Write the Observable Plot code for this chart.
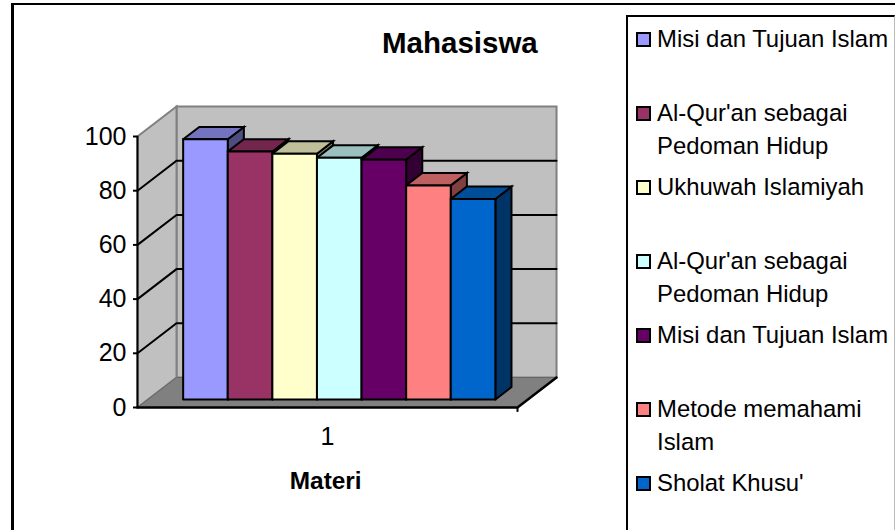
<!DOCTYPE html>
<html>
<head>
<meta charset="utf-8">
<script src="https://cdn.jsdelivr.net/npm/d3@7"></script>
<script src="https://cdn.jsdelivr.net/npm/@observablehq/plot@0.6"></script>
<style>
html,body{margin:0;padding:0;background:#fff;}
#stage{position:relative;width:895px;height:530px;overflow:hidden;font-family:"Liberation Sans",Arial,sans-serif;color:#000;}
#frame{position:absolute;left:11px;top:3px;width:900px;height:540px;border-left:3px solid #000;border-top:2.5px solid #000;}
#title{position:absolute;left:382px;top:23px;font-size:29.5px;font-weight:bold;line-height:40px;white-space:nowrap;}
#legend{position:absolute;left:626px;top:15px;width:266px;height:530px;border-left:2px solid #000;border-top:2px solid #000;border-right:1px solid #bbb;}
.row{position:absolute;left:8px;width:250px;height:74px;}
.sw{position:absolute;left:0;top:0;width:11px;height:11px;border:2px solid #000;}
.tx{position:absolute;left:21px;top:-9px;width:236px;font-size:23.9px;line-height:32.5px;}
svg{position:absolute;left:0;top:0;}
</style>
</head>
<body>
<div id="stage"><div id="frame"></div><div id="title">Mahasiswa</div><div id="legend"></div></div>
<script>
const chartTitle = "Mahasiswa";
const xTitle = "Materi";
const xCategory = "1";
const seriesNames = ["Misi dan Tujuan Islam","Al-Qur'an sebagai Pedoman Hidup","Ukhuwah Islamiyah","Al-Qur'an sebagai Pedoman Hidup","Misi dan Tujuan Islam","Metode memahami Islam","Sholat Khusu'"];
const seriesValues = [96, 91.5, 90.7, 89.2, 88.5, 79, 74];
const frontColors = ["#9999FF","#993366","#FFFFCC","#CCFFFF","#660066","#FF8080","#0066CC"];
const topColors = ["#7373BF","#73264D","#BFBF99","#99BFBF","#4D004D","#BF6060","#004D99"];
const sideColors = ["#4D4D80","#4D1A33","#808066","#668080","#330033","#804040","#003366"];
const yTicks = [0,20,40,60,80,100];
const gridValues = [20,40,60,80];

// oblique projection: depth 0 = front plane, 1 = back wall
const nBars = seriesValues.length;
const xMin = -0.79, xMax = nBars + 0.73;
const kx = 0.875, ky = 11.07;
const zFront = 0.267, zBack = 0.68;
const P = (u, v, z) => ({X: u + z * kx, Y: v + z * ky});
const poly = pts => { const a = pts.map(p => P(...p)); a.push(a[0]); return a; };
const path = pts => pts.map(p => P(...p));

const faceOpts = (fill, stroke, strokeWidth) => ({x:"X", y:"Y", fill, stroke, strokeWidth, strokeLinejoin:"miter", strokeMiterlimit:10, curve:"linear"});

const marks = [];
// walls and floor
marks.push(Plot.line(poly([[xMin,0,1],[xMax,0,1],[xMax,100,1],[xMin,100,1]]), faceOpts("#C0C0C0","#808080",2)));
marks.push(Plot.line(poly([[xMin,0,0],[xMin,0,1],[xMin,100,1],[xMin,100,0]]), faceOpts("#C0C0C0","#808080",2)));
marks.push(Plot.line(poly([[xMin,0,0],[xMax,0,0],[xMax,0,1],[xMin,0,1]]), faceOpts("#808080","#666666",1)));
// gridlines on the walls
gridValues.forEach(v => marks.push(Plot.line(path([[xMin,v,0],[xMin,v,1],[xMax,v,1]]), faceOpts("none","#000",2))));
// bars
seriesValues.forEach((v,i) => {
  marks.push(Plot.line(poly([[i+1,0,zFront],[i+1,0,zBack],[i+1,v,zBack],[i+1,v,zFront]]), faceOpts(sideColors[i],"#000",2)));
  marks.push(Plot.line(poly([[i,v,zFront],[i+1,v,zFront],[i+1,v,zBack],[i,v,zBack]]), faceOpts(topColors[i],"#000",2)));
  marks.push(Plot.line(poly([[i,0,zFront],[i+1,0,zFront],[i+1,v,zFront],[i,v,zFront]]), faceOpts(frontColors[i],"#000",2)));
});
// axes
marks.push(Plot.line(path([[xMin,0,0],[xMin,100,0]]), faceOpts("none","#000",2)));
marks.push(Plot.line(path([[xMin,0,0],[xMax,0,0],[xMax,0,1]]), faceOpts("none","#000",2.5)));
marks.push(Plot.axisY(yTicks, {anchor:"left", x:xMin, label:null, tickSize:4, tickPadding:7, fontSize:25, strokeWidth:2, stroke:"#000", color:"#000"}));
marks.push(Plot.ruleX([xMax], {y1:0, y2:-1.8, stroke:"#000", strokeWidth:2}));
marks.push(Plot.text([xCategory], {x:(xMin+xMax)/2, y:0, dy:29, text:d=>d, fontSize:25, fill:"#000"}));
marks.push(Plot.text([xTitle], {x:(xMin+xMax)/2 - 0.04, y:0, dy:74, text:d=>d, fontSize:24.4, fontWeight:"bold", fill:"#000"}));

const chart = Plot.plot({
  width:895, height:530,
  marginLeft:137, marginRight:378, marginTop:136, marginBottom:123,
  x:{type:"linear", domain:[xMin,xMax], axis:null},
  y:{type:"linear", domain:[0,100], axis:null},
  style:{background:"transparent", fontFamily:'"Liberation Sans",Arial,sans-serif', color:"#000"},
  marks
});
document.getElementById("stage").insertBefore(chart, document.getElementById("title"));
document.getElementById("title").textContent = chartTitle;

const legend = document.getElementById("legend");
seriesNames.forEach((name,i) => {
  const r = document.createElement("div"); r.className = "row"; r.style.top = (15 + 74*i) + "px";
  const s = document.createElement("div"); s.className = "sw"; s.style.background = frontColors[i];
  const t = document.createElement("div"); t.className = "tx"; t.textContent = name;
  r.append(s,t); legend.append(r);
});
</script>
</body>
</html>
